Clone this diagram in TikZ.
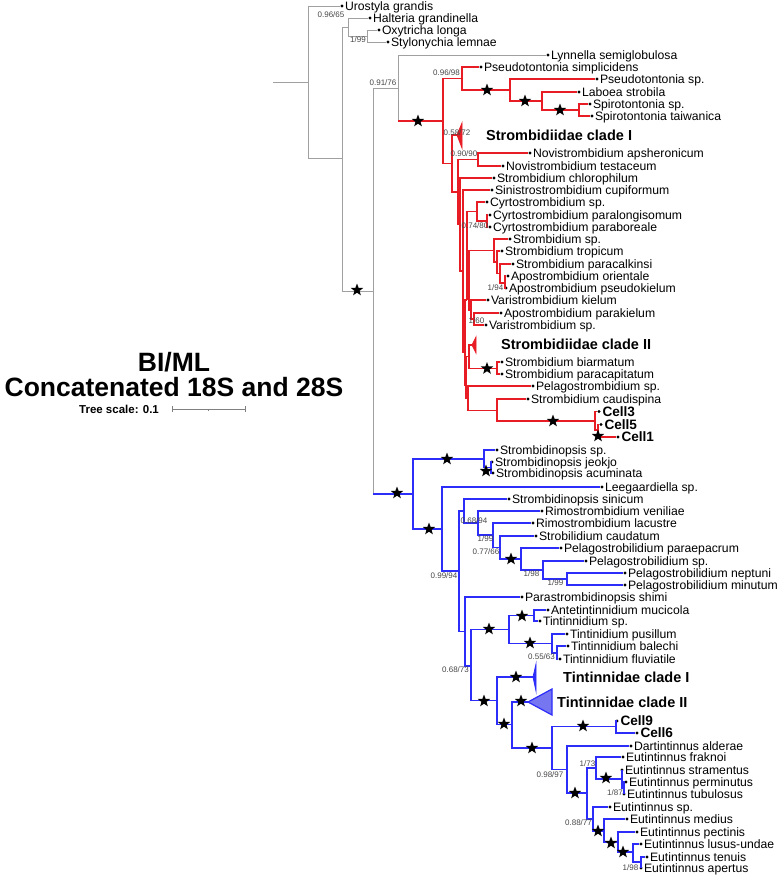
\documentclass[tikz,border=0pt]{standalone}
\usepackage{fontspec}
\setmainfont{Liberation Sans}
\usetikzlibrary{shapes.geometric}
\definecolor{tred}{RGB}{232,28,36}
\definecolor{tblue}{RGB}{45,45,250}
\definecolor{tgray}{RGB}{160,160,160}
\definecolor{tfill}{RGB}{118,118,240}
\definecolor{bsc}{RGB}{70,70,70}
\begin{document}
\begin{tikzpicture}[x=1pt,y=-1pt,
  gline/.style={draw=tgray,line width=0.9pt},
  rline/.style={draw=tred,line width=1.5pt},
  bline/.style={draw=tblue,line width=1.5pt},
  tip/.style={circle,fill=black,inner sep=0pt,minimum size=3.2pt},
  lbl/.style={anchor=west,inner sep=0pt,xshift=1pt,font=\fontsize{12.2}{12.2}\selectfont,text height=8.7pt,text depth=0pt},
  blbl/.style={anchor=west,inner sep=0pt,xshift=1.5pt,font=\fontsize{14.5}{14.5}\bfseries\selectfont,text height=10.4pt,text depth=0pt},
  clbl/.style={anchor=west,inner sep=0pt,xshift=1.5pt,font=\fontsize{13.6}{13.6}\bfseries\selectfont,text height=9.6pt,text depth=0pt},
  bs/.style={inner sep=0pt,text=bsc,font=\fontsize{8}{8}\selectfont},
  starx/.style={star,star points=5,star point ratio=2.4,fill=black,draw=none,inner sep=0pt,minimum size=13pt},
]
\useasboundingbox (0,0) rectangle (780,876);
% ---------- internal nodes ----------
\coordinate (root) at (273,82.4);
\coordinate (R0) at (308,82.4);
\coordinate (A) at (342,158.75);
\coordinate (B) at (348,27);
\coordinate (C) at (367,36);
\coordinate (D) at (373,291);
\coordinate (E) at (398,88);
% red
\coordinate (F) at (443,121);
\coordinate (G) at (462,78.5);
\coordinate (H) at (510,90);
\coordinate (I) at (542,101);
\coordinate (J) at (579,110);
\coordinate (K) at (452,163.5);
\coordinate (CIr) at (457,135);
\coordinate (L) at (458,192);
\coordinate (M) at (478,159.5);
\coordinate (L2) at (460,224.5);
\coordinate (L3) at (463,271);
\coordinate (L4) at (465,352);
\coordinate (U1) at (467,300);
\coordinate (CG) at (477,211.5);
\coordinate (CG2) at (487,221);
\coordinate (U2) at (469,280);
\coordinate (SG1) at (494,250.5);
\coordinate (SG2) at (497,262);
\coordinate (SG3) at (500,273.5);
\coordinate (SG4) at (505,283);
\coordinate (VG) at (471,310.5);
\coordinate (VG2) at (474,319);
\coordinate (U3) at (466,385);
\coordinate (U4) at (469,356.5);
\coordinate (CIIr) at (472,345);
\coordinate (BG) at (497,368.5);
\coordinate (PG) at (468,398);
\coordinate (CaG) at (497,410.5);
\coordinate (CN) at (595,421);
\coordinate (CN2) at (598,430);
% blue
\coordinate (N) at (413,494);
\coordinate (O) at (484,459);
\coordinate (P) at (491,467.5);
\coordinate (Q) at (442,529);
\coordinate (R) at (459,571);
\coordinate (S) at (464,511);
\coordinate (U) at (478,523);
\coordinate (V) at (493,535);
\coordinate (W) at (500,547.5);
\coordinate (X) at (521,559);
\coordinate (Y) at (543,570);
\coordinate (Z) at (567,579);
\coordinate (T) at (465,631.5);
\coordinate (AA) at (471,666);
\coordinate (BB) at (509,629.5);
\coordinate (DD) at (534,615.5);
\coordinate (EE) at (552,643.5);
\coordinate (FF) at (557,653);
\coordinate (CC) at (497,700.5);
\coordinate (CIb) at (533,677);
\coordinate (GG) at (512,724.5);
\coordinate (CIIb) at (528,702);
\coordinate (HH) at (552,748);
\coordinate (II) at (616,726.5);
\coordinate (JJ) at (567,769.5);
\coordinate (KK) at (587,793);
\coordinate (LL) at (596,768);
\coordinate (NN) at (622,779);
\coordinate (OO) at (624,788);
\coordinate (MM) at (593,819);
\coordinate (PP) at (604,831);
\coordinate (QQ) at (618,842);
\coordinate (RR) at (633,852);
\coordinate (SS) at (641,862);
% ---------- leaves ----------
\foreach \n/\x/\y/\t in {
 uro/342/6/Urostyla grandis, hal/370/18/Halteria grandinella, oxy/379/30/Oxytricha longa,
 sty/388/42/Stylonychia lemnae, lyn/548/55/Lynnella semiglobulosa,
 psim/481/67/Pseudotontonia simplicidens, psp/597/79/Pseudotontonia sp., lab/579/92/Laboea strobila,
 ssp/590/104/Spirotontonia sp., stw/592/116/Spirotontonia taiwanica,
 naps/530/153/Novistrombidium apsheronicum, ntes/503/166/Novistrombidium testaceum,
 schl/494/178/Strombidium chlorophilum, sinc/492/190/Sinistrostrombidium cupiformum,
 cysp/487/202/Cyrtostrombidium sp., cypl/490/215/Cyrtostrombidium paralongisomum,
 cypb/490/227/Cyrtostrombidium paraboreale, strsp/510/239/Strombidium sp.,
 strop/502/251/Strombidium tropicum, spcal/513/264/Strombidium paracalkinsi,
 aor/508/276/Apostrombidium orientale, aps/506/288/Apostrombidium pseudokielum,
 vkie/488/300/Varistrombidium kielum, apar/501/313/Apostrombidium parakielum,
 vsp/486/325/Varistrombidium sp., sbia/502/362/Strombidium biarmatum,
 spca/502/374/Strombidium paracapitatum, pelsp/533/386/Pelagostrombidium sp.,
 scau/528/399/Strombidium caudispina,
 snsp/497/450/Strombidinopsis sp., snje/492/462/Strombidinopsis jeokjo,
 snac/493/473/Strombidinopsis acuminata, leeg/602/487/Leegaardiella sp.,
 snsi/509/499/Strombidinopsis sinicum, rven/542/511/Rimostrombidium veniliae,
 rlac/533/523/Rimostrombidium lacustre, scaud/536/536/Strobilidium caudatum,
 ppar/561/548/Pelagostrobilidium paraepacrum, ppsp/586/561/Pelagostrobilidium sp.,
 pnep/625/573/Pelagostrobilidium neptuni, pmin/625/585/Pelagostrobilidium minutum,
 psh/522/597/Parastrombidinopsis shimi, amu/548/610/Antetintinnidium mucicola,
 tsp/540/621/Tintinnidium sp., tpu/567/634/Tintinidium pusillum,
 tba/568/646/Tintinnidium balechi, tfl/560/659/Tintinnidium fluviatile,
 dart/631/746/Dartintinnus alderae, efr/623/757/Eutintinnus fraknoi,
 estr/622/770/Eutintinnus stramentus, eper/626/782/Eutintinnus perminutus,
 etub/624/794/Eutintinnus tubulosus, esp/610/807/Eutintinnus sp.,
 emed/627/819/Eutintinnus medius, epec/637/832/Eutintinnus pectinis,
 elus/641/844/Eutintinnus lusus-undae, eten/647/857/Eutintinnus tenuis,
 eape/641/868/Eutintinnus apertus}
 {\node[tip] (\n) at (\x,\y) {}; \node[lbl] (\n-l) at (\n.east) {\t};}
\foreach \n/\x/\y/\t in {cell3/599/411.5/Cell3, cell5/601/424.5/Cell5, cell1/618/437/Cell1,
 cell9/617/721/Cell9, cell6/637/733/Cell6}
 {\node[tip] (\n) at (\x,\y) {}; \node[clbl] (\n-l) at (\n.east) {\t};}
% ---------- gray edges ----------
\draw[gline] (root) -- (R0);
\foreach \a/\b in {R0/uro, R0/A, A/B, A/D, B/hal, B/C, C/oxy, C/sty, D/E, E/lyn}
  \draw[gline] (\a) |- (\b);
\draw[gline] (E) -- (E|-F); \draw[rline] (E|-F) -- (F);
\draw[gline] (D) -- (D|-N); \draw[bline] (D|-N) -- (N);
% ---------- red edges ----------
\foreach \a/\b in {F/G, F/K, G/psim, G/H, H/psp, H/I, I/lab, I/J, J/ssp, J/stw,
  K/CIr, K/L, L/M, L/L2, M/naps, M/ntes, L2/schl, L2/L3, L3/sinc, L3/L4,
  L4/U1, L4/U3, U1/CG, U1/U2, CG/cysp, CG/CG2, CG2/cypl, CG2/cypb,
  U2/SG1, U2/VG, SG1/strsp, SG1/SG2, SG2/strop, SG2/SG3, SG3/spcal, SG3/SG4,
  SG4/aor, SG4/aps, VG/vkie, VG/VG2, VG2/apar, VG2/vsp,
  U3/U4, U3/PG, U4/CIIr, U4/BG, BG/sbia, BG/spca, PG/pelsp, PG/CaG,
  CaG/scau, CaG/CN, CN/cell3, CN/CN2, CN2/cell5, CN2/cell1}
  \draw[rline] (\a) |- (\b);
\draw[rline,fill=tred,line width=0.8pt] (CIr) -- (462,123) -- (462,148) -- cycle;
\draw[rline,fill=tred,line width=0.8pt] (CIIr) -- (476,337) -- (476,353) -- cycle;
% ---------- blue edges ----------
\foreach \a/\b in {N/O, N/Q, O/snsp, O/P, P/snje, P/snac, Q/leeg, Q/R, R/S, R/T,
  S/snsi, S/U, U/rven, U/V, V/rlac, V/W, W/scaud, W/X, X/ppar, X/Y, Y/ppsp, Y/Z,
  Z/pnep, Z/pmin, T/psh, T/AA, AA/BB, AA/CC, BB/DD, BB/EE, DD/amu, DD/tsp,
  EE/tpu, EE/FF, FF/tba, FF/tfl, CC/CIb, CC/GG, GG/CIIb, GG/HH, HH/II, HH/JJ,
  II/cell9, II/cell6, JJ/dart, JJ/KK, KK/LL, KK/MM, LL/efr, LL/NN, NN/estr, NN/OO,
  OO/eper, OO/etub, MM/esp, MM/PP, PP/emed, PP/QQ, QQ/epec, QQ/RR, RR/elus, RR/SS,
  SS/eten, SS/eape}
  \draw[bline] (\a) |- (\b);
\draw[bline,fill=tblue,line width=0.8pt] (CIb) -- (536,664) -- (536,691) -- cycle;
\draw[bline,fill=tfill,line width=1.2pt] (CIIb) -- (552,689) -- (552,715) -- cycle;
% ---------- clade labels ----------
\node[blbl] (cl1) at (484.5,135) {Strombidiidae clade I};
\node[blbl] (cl2) at (499.5,344) {Strombidiidae clade II};
\node[blbl] (cl3) at (561.5,677) {Tintinnidae clade I};
\node[blbl] (cl4) at (555.5,702) {Tintinnidae clade II};
% ---------- stars ----------
\foreach \p [count=\i] in {(357,290),(418,121),(487,90),(525,101),(560,110),(487,368.5),(553,421),(598,436),
  (397,493),(447,459),(486,471),(429,529),(511,559),(522,616),(530,643),(489,629),(484,701),
  (516,677),(504,724),(521,701),(532,748),(583,726),(575,793),(606,778),(598,831),(611,843),(623,852)}
  \node[starx] (st\i) at \p {};
% ---------- support values ----------
\foreach \x/\y/\t [count=\i] in {331/15/{0.96/65}, 358/40/{1/99}, 383/83/{0.91/76}, 446.5/73/{0.96/98},
  457/133/{0.58/72}, 464/154/{0.90/90}, 475/226/{0.74/80}, 495.5/288/{1/94}, 476.5/321/{1/60},
  474/521/{0.68/94}, 485.5/539/{1/99}, 486/552/{0.77/66}, 444/576/{0.99/94}, 531.5/574/{1/98},
  555.5/583/{1/99}, 541.5/657/{0.55/63}, 455.5/670/{0.68/73}, 550/775/{0.98/97}, 587.5/764/{1/73},
  615/793/{1/87}, 578.5/823/{0.88/77}, 630.5/868/{1/98}}
  \node[bs] (bs\i) at (\x,\y) {\t};
% ---------- title and scale ----------
\node[font=\fontsize{26.5}{26.5}\bfseries\selectfont,inner sep=0pt] (title1) at (174,362) {BI/ML};
\node[font=\fontsize{26.5}{26.5}\bfseries\selectfont,inner sep=0pt] (title2) at (174,387) {Concatenated 18S and 28S};
\node[font=\fontsize{11.5}{11.5}\bfseries\selectfont,inner sep=0pt] (scl) at (119,409) {Tree scale: 0.1};
\coordinate (sb1) at (172,409); \coordinate (sb2) at (245,409); \coordinate (sbm) at (208.5,409);
\draw[draw=gray,line width=0.8pt] (sb1) -- (sb2);
\draw[draw=gray,line width=0.8pt] ([yshift=-3pt]sb1) -- ([yshift=3pt]sb1);
\draw[draw=gray,line width=0.8pt] ([yshift=-3pt]sb2) -- ([yshift=3pt]sb2);
\draw[draw=gray,line width=0.6pt] (sbm) -- ([yshift=-2pt]sbm);
\end{tikzpicture}
\end{document}
